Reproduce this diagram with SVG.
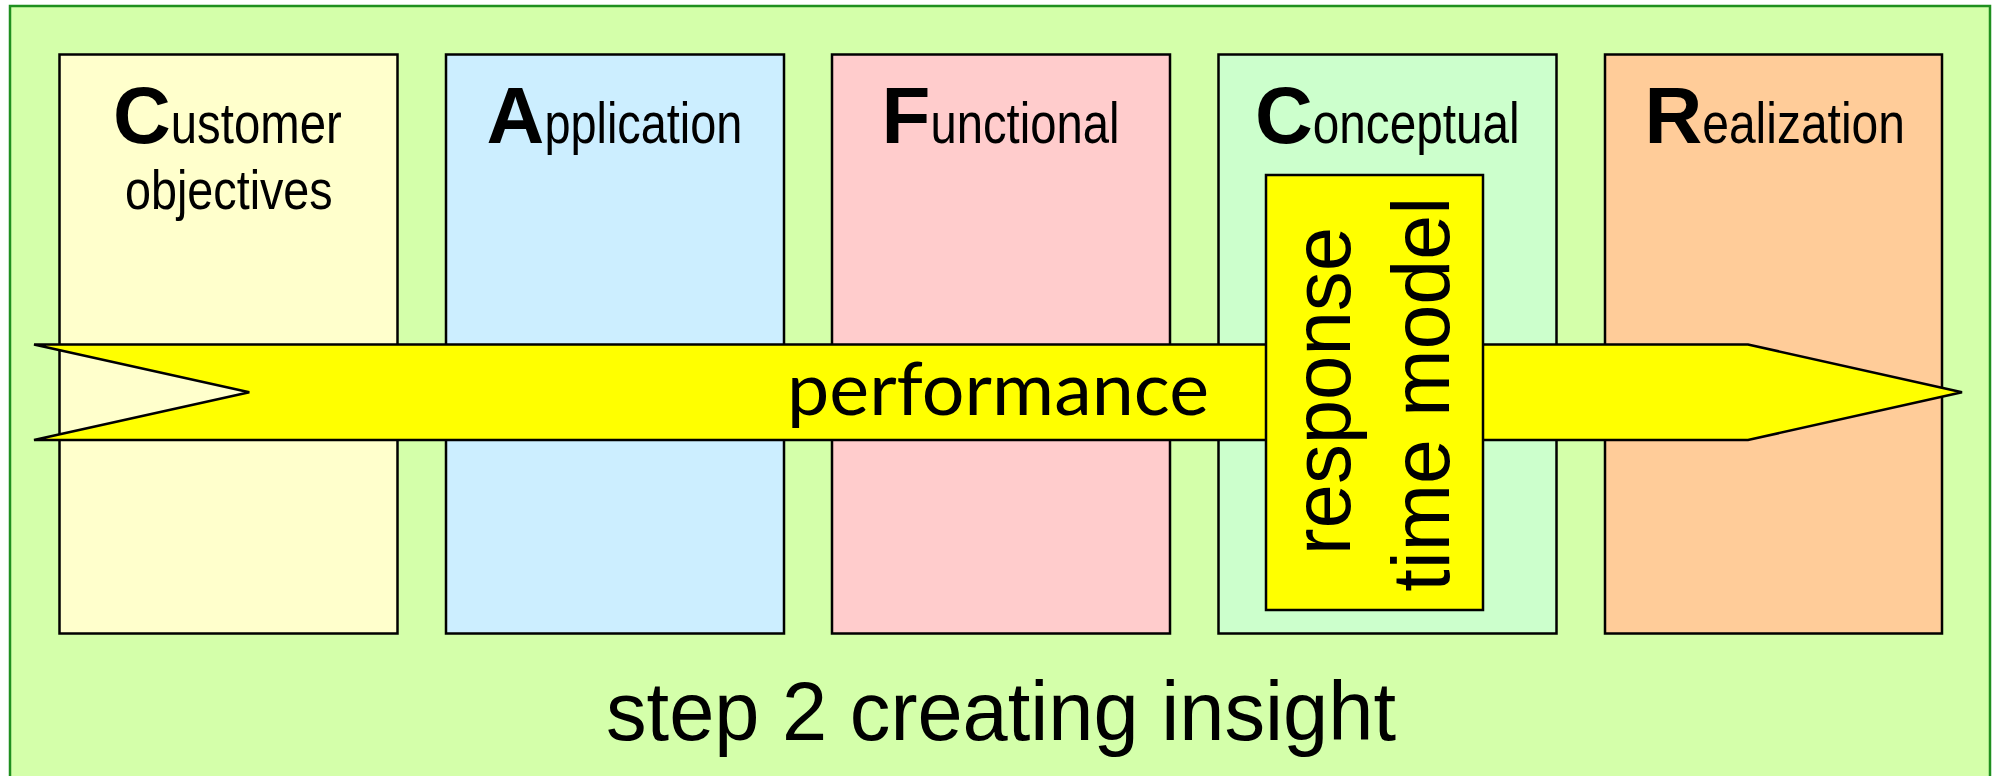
<svg xmlns="http://www.w3.org/2000/svg" width="1995" height="776" viewBox="0 0 1995 776">
<style>
.frame{fill:#d4ffaa;stroke:#1f8f1f;stroke-width:2.5}
.box{stroke:#000;stroke-width:2.5}
.lbl{font-family:"Liberation Sans Narrow","Liberation Sans",Arial,sans-serif;fill:#000}
.cap{font-family:"Liberation Sans",Arial,sans-serif;font-weight:bold;font-size:80px}
.low{font-size:57px}
.arrow{fill:#ffff00;stroke:#000;stroke-width:2.5;stroke-linejoin:miter}
.perf{font-family:Lato,"Open Sans",sans-serif;font-size:74px;fill:#000}
.rt{font-family:"Liberation Sans",Arial,sans-serif;font-size:82px;fill:#000}
.step{font-family:"Liberation Sans Narrow","Liberation Sans",Arial,sans-serif;font-size:84px;fill:#000}
</style>
<rect class="frame" x="10" y="6" width="1980" height="780"/>
<g id="customer">
<rect class="box" x="59.5" y="54.5" width="338" height="579" fill="#ffffcc"/>
<text class="lbl" y="142.5"><tspan class="cap" x="113">C</tspan><tspan class="low" x="170.8" textLength="171" lengthAdjust="spacingAndGlyphs">ustomer</tspan></text>
<text class="lbl" x="125" y="209" font-size="55" textLength="207.7" lengthAdjust="spacingAndGlyphs">objectives</text>
</g>
<g id="application">
<rect class="box" x="446" y="54.5" width="338" height="579" fill="#cceeff"/>
<text class="lbl" y="142.5"><tspan class="cap" x="486.6">A</tspan><tspan class="low" x="544.4" textLength="198" lengthAdjust="spacingAndGlyphs">pplication</tspan></text>
</g>
<g id="functional">
<rect class="box" x="832" y="54.5" width="338" height="579" fill="#ffcccc"/>
<text class="lbl" y="142.5"><tspan class="cap" x="881.6">F</tspan><tspan class="low" x="930.5" textLength="189" lengthAdjust="spacingAndGlyphs">unctional</tspan></text>
</g>
<g id="conceptual">
<rect class="box" x="1218.5" y="54.5" width="338" height="579" fill="#ccffcc"/>
<text class="lbl" y="142.5"><tspan class="cap" x="1255">C</tspan><tspan class="low" x="1312.8" textLength="206.8" lengthAdjust="spacingAndGlyphs">onceptual</tspan></text>
</g>
<g id="realization">
<rect class="box" x="1605" y="54.5" width="337" height="579" fill="#ffcc99"/>
<text class="lbl" y="142.5"><tspan class="cap" x="1644.4">R</tspan><tspan class="low" x="1702.2" textLength="202.8" lengthAdjust="spacingAndGlyphs">ealization</tspan></text>
</g>
<g id="performance-arrow">
<polygon class="arrow" points="34,344.5 1748,344.5 1962,392.3 1748,440 34,440 249.3,392.3"/>
<text class="perf" x="787" y="415" textLength="422" lengthAdjust="spacingAndGlyphs">performance</text>
</g>
<g id="response-time-model">
<rect class="box" x="1266" y="175" width="217" height="435" fill="#ffff00"/>
<text class="rt" transform="translate(1350,391) rotate(-90)" text-anchor="middle" textLength="328" lengthAdjust="spacingAndGlyphs">response</text>
<text class="rt" transform="translate(1449.3,394.3) rotate(-90)" text-anchor="middle" textLength="394.7" lengthAdjust="spacingAndGlyphs">time model</text>
</g>
<g id="caption">
<text class="step" x="606" y="740" textLength="790" lengthAdjust="spacingAndGlyphs">step 2 creating insight</text>
</g>
</svg>
